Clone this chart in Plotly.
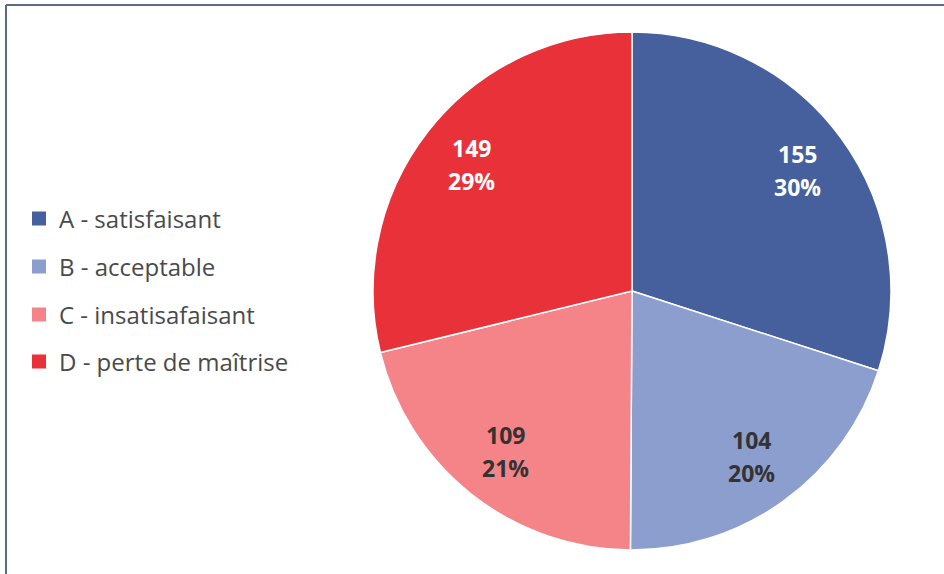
import math
import plotly.graph_objects as go

categories = ["A - satisfaisant", "B - acceptable", "C - insatisafaisant", "D - perte de maîtrise"]
values = [155, 104, 109, 149]
percent_labels = ["30%", "20%", "21%", "29%"]
colors = ["#465F9D", "#8B9ECD", "#F48487", "#E9313A"]
text_colors = ["#FFFFFF", "#333333", "#333333", "#FFFFFF"]

W, H = 944, 574
# pie placement (pixels)
CX, CY, R = 632, 291, 259

fig = go.Figure()
fig.add_trace(go.Pie(
    labels=categories,
    values=values,
    textinfo="none",
    sort=False,
    direction="clockwise",
    rotation=0,
    marker=dict(colors=colors, line=dict(color="white", width=1.5)),
    domain=dict(x=[(CX - R) / W, (CX + R) / W], y=[1 - (CY + R) / H, 1 - (CY - R) / H]),
    showlegend=False,
    hoverinfo="label+value+percent",
))

# slice labels placed at 0.79 R along each slice's mid-angle
annotations = []
total = sum(values)
cum = 0
for v, p, tc in zip(values, percent_labels, text_colors):
    mid = (cum + v / 2) / total * 2 * math.pi
    cum += v
    px = CX + 0.79 * R * math.sin(mid)
    py = CY - 0.79 * R * math.cos(mid)
    for txt, dy in ((str(v), -16.5), (p, 16.5)):
        annotations.append(dict(
            x=px / W, y=1 - (py + dy) / H, xref="paper", yref="paper",
            text=f"<b>{txt}</b>", showarrow=False, xanchor="center", yanchor="middle",
            font=dict(family="Open Sans", size=23, color=tc),
        ))

# legend entries (one legend per entry to reproduce the wide spacing)
legend_y = [219, 267, 315, 362]
legend_names = ["legend", "legend2", "legend3", "legend4"]
layout_legends = {}
for name, cat, col, yy in zip(legend_names, categories, colors, legend_y):
    fig.add_trace(go.Scatter(
        x=[None], y=[None], mode="markers", name=cat,
        marker=dict(symbol="square", size=14, color=col),
        legend=name, showlegend=True,
    ))
    layout_legends[name] = dict(
        x=19 / W, y=1 - yy / H, xanchor="left", yanchor="middle",
        bgcolor="rgba(0,0,0,0)",
        font=dict(family="Open Sans", size=24, color="#4a4a4a"),
        itemwidth=30,
    )

fig.update_layout(
    width=W, height=H,
    margin=dict(l=0, r=0, t=0, b=0),
    paper_bgcolor="white", plot_bgcolor="white",
    xaxis=dict(visible=False), yaxis=dict(visible=False),
    annotations=annotations,
    shapes=[
        dict(type="line", xref="paper", yref="paper", x0=6 / W, x1=6 / W, y0=0, y1=1 - 5 / H,
             line=dict(color="#5B6B86", width=2)),
        dict(type="line", xref="paper", yref="paper", x0=6 / W, x1=1, y0=1 - 5 / H, y1=1 - 5 / H,
             line=dict(color="#5B6B86", width=2)),
    ],
    **layout_legends,
)

fig.write_html("out.html", config={"displayModeBar": False},
               post_script="document.body.style.margin='0';document.body.style.overflow='hidden';")
